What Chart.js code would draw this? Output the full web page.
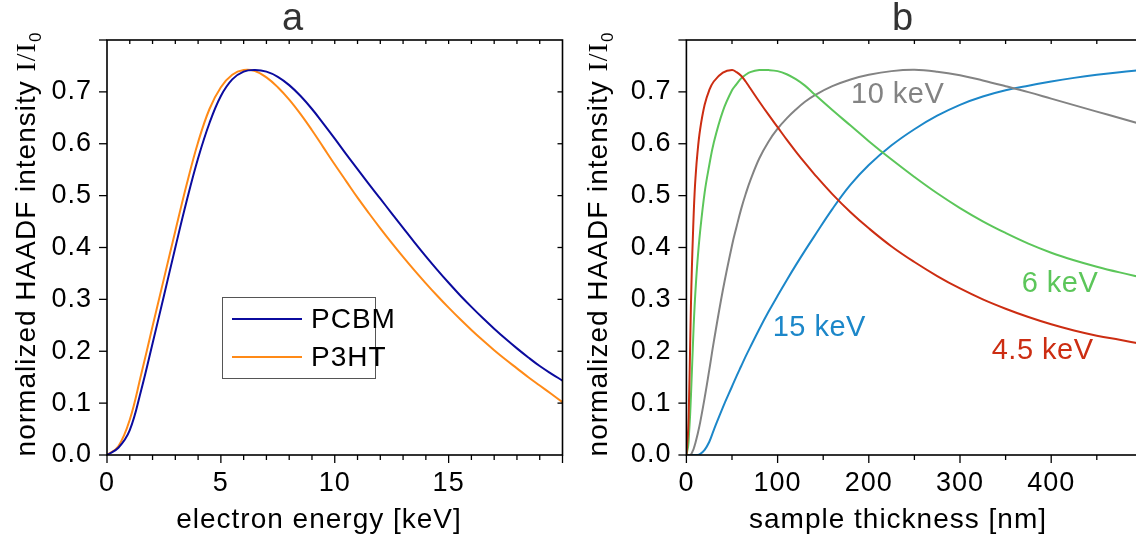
<!DOCTYPE html>
<html><head><meta charset="utf-8">
<script src="https://cdn.jsdelivr.net/npm/chart.js@4.4.1/dist/chart.umd.min.js"></script>
<style>
html,body{margin:0;padding:0;background:#fff;overflow:hidden;width:1136px;height:540px;}
#wa{position:absolute;left:0;top:0;width:568px;height:540px;}
#wb{position:absolute;left:568px;top:0;width:580px;height:540px;}
</style></head><body>
<div id="wa"><canvas id="ca"></canvas></div>
<div id="wb"><canvas id="cb"></canvas></div>
<script>
// ---- panel a data ----
const energyKeV = [0,0.5,1,1.5,2,2.5,3,3.5,4,4.5,5,5.5,6,6.5,7,7.5,8,8.5,9,9.5,10,10.5,11,11.5,12,12.5,13,13.5,14,14.5,15,15.5,16,16.5,17,17.5,18,18.5,19,19.5,20];
const pcbm = [0,0.014,0.048,0.125,0.215,0.307,0.400,0.490,0.572,0.640,0.692,0.724,0.739,0.742,0.739,0.729,0.713,0.692,0.667,0.639,0.610,0.580,0.551,0.522,0.494,0.466,0.438,0.410,0.383,0.357,0.332,0.308,0.2855,0.264,0.2435,0.224,0.2055,0.188,0.1715,0.157,0.1435];
const p3ht = [0,0.017,0.068,0.155,0.248,0.340,0.432,0.522,0.603,0.667,0.709,0.733,0.742,0.740,0.728,0.709,0.685,0.657,0.626,0.593,0.560,0.528,0.496,0.466,0.437,0.409,0.382,0.356,0.331,0.307,0.284,0.262,0.241,0.221,0.202,0.184,0.167,0.150,0.134,0.118,0.102];
const seriesA = ['PCBM','P3HT'];
// ---- panel b data ----
const thicknessNm = [0,2,3,4,5,6,7,8,9,10,12,15,20,25,30,40,50,55,60,65,70,80,90,100,110,120,130,140,160,180,200,225,250,275,300,325,350,375,400,425,450,475,500];
const i4p5keV = [0,0.05,0.115,0.2,0.29,0.36,0.415,0.465,0.505,0.535,0.58,0.627,0.675,0.703,0.72,0.737,0.742,0.738,0.731,0.72,0.707,0.681,0.656,0.632,0.608,0.585,0.563,0.542,0.503,0.468,0.437,0.402,0.372,0.345,0.321,0.300,0.282,0.266,0.252,0.240,0.230,0.222,0.214];
const i6keV = [0,0.018,0.045,0.075,0.115,0.16,0.205,0.25,0.287,0.318,0.37,0.43,0.506,0.558,0.602,0.663,0.703,0.715,0.726,0.733,0.738,0.742,0.742,0.740,0.734,0.7245,0.712,0.696,0.665,0.635,0.605,0.5695,0.536,0.5045,0.476,0.4505,0.428,0.4075,0.390,0.3755,0.363,0.352,0.342];
const i10keV = [0,0,0,0,0.001,0.004,0.008,0.012,0.018,0.024,0.038,0.062,0.11,0.163,0.218,0.318,0.404,0.44,0.474,0.503,0.529,0.572,0.604,0.629,0.649,0.666,0.681,0.693,0.711,0.724,0.733,0.740,0.7425,0.739,0.732,0.722,0.711,0.6995,0.687,0.6745,0.662,0.6495,0.637];
const i15keV = [0,0,0,0,0,0,0,0,0,0,0,0.002,0.01,0.025,0.048,0.092,0.132,0.152,0.171,0.19,0.208,0.243,0.276,0.307,0.337,0.366,0.394,0.421,0.474,0.521,0.559,0.597,0.628,0.654,0.675,0.691,0.703,0.712,0.72,0.727,0.733,0.738,0.742];
const seriesB = ['4.5 keV','6 keV','10 keV','15 keV'];
// ---- tick values ----
const yTickValues = [0,0.1,0.2,0.3,0.4,0.5,0.6,0.7];

const FAM = "'Liberation Sans', Arial, sans-serif";
const SERIF = "'Liberation Serif', 'Times New Roman', serif";
Chart.defaults.font.family = FAM;
Chart.defaults.font.size = 27;
Chart.defaults.color = '#000';

function pts(xs, ys){ return xs.map((x,i)=>({x:x, y:ys[i]})); }

function setSpacing(chart){ try{ chart.ctx.letterSpacing='1px'; }catch(e){} }

const framePlugin = {
  id:'frame',
  beforeLayout: setSpacing, beforeUpdate: setSpacing, beforeDraw: setSpacing,
  afterDraw(chart, args, o){
    const {ctx, chartArea:a} = chart;
    const x = chart.scales.x, y = chart.scales.y;
    ctx.save();
    ctx.letterSpacing='1px';
    ctx.strokeStyle='#000'; ctx.lineWidth=1.6;
    ctx.strokeRect(a.left, a.top, a.right-a.left, a.bottom-a.top);
    ctx.lineWidth=1.3;
    const ln=(x1,y1,x2,y2)=>{ctx.beginPath();ctx.moveTo(x1,y1);ctx.lineTo(x2,y2);ctx.stroke();};
    const n = Math.round((x.max-x.min)/o.xMinor);
    for(let i=0;i<=n;i++){
      const v = x.min + i*o.xMinor;
      const px = x.getPixelForValue(v);
      const major = Math.abs(v/o.xMajor - Math.round(v/o.xMajor))<1e-6;
      ln(px, a.bottom, px, a.bottom + (major?8:5));
      if(i>0 && i<n) ln(px, a.top, px, a.top+4);
    }
    for(let i=0;i<=8;i++){
      const py = y.getPixelForValue(i*0.1);
      ln(a.left-8, py, a.left, py);
      if(i>0 && i<8) ln(a.right, py, a.right-5, py);
    }
    // y title
    const t1 = 'normalized HAADF intensity ';
    ctx.translate(o.yTitleX, o.yTitleY); ctx.rotate(-Math.PI/2);
    ctx.fillStyle='#000'; ctx.textBaseline='alphabetic'; ctx.textAlign='left';
    ctx.font = "28px "+FAM; const w1 = ctx.measureText(t1).width;
    ctx.font = "28px "+SERIF; const w2 = ctx.measureText('I/I').width;
    ctx.font = "17px "+FAM; const w3 = ctx.measureText('0').width;
    let px = -(w1+w2+w3)/2;
    ctx.font = "28px "+FAM; ctx.fillText(t1, px, 0); px+=w1;
    ctx.font = "28px "+SERIF; ctx.fillText('I/I', px, 0); px+=w2;
    ctx.font = "17px "+FAM; ctx.fillText('0', px, 6);
    ctx.setTransform(1,0,0,1,0,0);
    // x title
    ctx.font = "28px "+FAM; ctx.textAlign='center'; ctx.textBaseline='middle';
    ctx.fillText(o.xTitle, o.xTitleX, o.xTitleY);
    // panel letter
    ctx.fillStyle='#333'; ctx.font = "38px "+FAM;
    ctx.fillText(o.letter, o.letterX, 20);
    ctx.restore();
  }
};

const legendPlugin = {
  id:'boxLegend',
  afterDraw(chart, args, o){
    if(!o.show) return;
    const ctx = chart.ctx;
    ctx.save();
    ctx.letterSpacing='1px';
    ctx.strokeStyle='#555'; ctx.lineWidth=1;
    ctx.strokeRect(o.left+0.5, o.top+0.5, o.width, o.height);
    ctx.font = "28px "+FAM; ctx.textBaseline='middle'; ctx.textAlign='left'; ctx.fillStyle='#000';
    chart.data.datasets.forEach((ds,i)=>{
      const yy = o.top + o.rowY[i];
      ctx.strokeStyle = ds.borderColor; ctx.lineWidth=2;
      ctx.beginPath(); ctx.moveTo(o.left+10, yy); ctx.lineTo(o.left+80, yy); ctx.stroke();
      ctx.fillText(ds.label, o.left+89, yy+1);
    });
    ctx.restore();
  }
};

const curveLabelPlugin = {
  id:'curveLabels',
  afterDraw(chart, args, o){
    if(!o.items) return;
    const ctx = chart.ctx, x=chart.scales.x, y=chart.scales.y;
    ctx.save();
    ctx.letterSpacing='0.5px';
    ctx.font = "29px "+FAM; ctx.textBaseline='alphabetic'; ctx.textAlign='left';
    o.items.forEach(it=>{
      const ds = chart.data.datasets[it.ds];
      ctx.fillStyle = ds.borderColor;
      ctx.fillText(ds.label, x.getPixelForValue(it.x), y.getPixelForValue(it.y));
    });
    ctx.restore();
  }
};

function scalesFor(xMax, xStep, yWidth){
  return {
    x:{type:'linear', min:0, max:xMax, afterFit:s=>{s.height=85;},
       grid:{drawOnChartArea:false, color:'rgba(0,0,0,0)', tickLength:8},
       border:{display:false},
       ticks:{stepSize:xStep, padding:4, maxRotation:0, autoSkip:false,
              callback:v=> (v>=xMax-1e-9)?'':String(v)}},
    y:{type:'linear', min:0, max:0.8, afterFit:s=>{s.width=yWidth;},
       grid:{drawOnChartArea:false, color:'rgba(0,0,0,0)', tickLength:8},
       border:{display:false},
       ticks:{stepSize:0.1, padding:7, autoSkip:false,
              callback:v=> yTickValues.some(t=>Math.abs(t-v)<1e-6)? v.toFixed(1):''}}
  };
}

function lineDs(label, xs, ys, color){
  return {label, data:pts(xs,ys), borderColor:color, backgroundColor:color,
          borderWidth:2, pointRadius:0, fill:false, tension:0.4};
}

new Chart(document.getElementById('ca'), {
  type:'line',
  data:{datasets:[
    lineDs(seriesA[0], energyKeV, pcbm, '#0b0b9e'),
    lineDs(seriesA[1], energyKeV, p3ht, '#ff8a17')
  ]},
  options:{
    responsive:true, maintainAspectRatio:false, animation:false, devicePixelRatio:1,
    layout:{padding:{top:40, right:5.5, left:0, bottom:0}},
    scales:scalesFor(20, 5, 107),
    plugins:{
      legend:{display:false}, tooltip:{enabled:false},
      frame:{xMinor:1, xMajor:5, yTitleX:35, yTitleY:244, xTitle:'electron energy [keV]', xTitleX:319, xTitleY:520, letter:'a', letterX:293},
      boxLegend:{show:true, left:222, top:297, width:153, height:81, rowY:[22,60]}
    }
  },
  plugins:[framePlugin, legendPlugin]
});

new Chart(document.getElementById('cb'), {
  type:'line',
  data:{datasets:[
    lineDs(seriesB[0], thicknessNm, i4p5keV, '#cc2d12'),
    lineDs(seriesB[1], thicknessNm, i6keV, '#5cc65a'),
    lineDs(seriesB[2], thicknessNm, i10keV, '#838383'),
    lineDs(seriesB[3], thicknessNm, i15keV, '#1c87c9')
  ]},
  options:{
    responsive:true, maintainAspectRatio:false, animation:false, devicePixelRatio:1,
    layout:{padding:{top:40, right:5.6, left:0, bottom:0}},
    scales:scalesFor(500, 100, 118.4),
    plugins:{
      legend:{display:false}, tooltip:{enabled:false},
      frame:{xMinor:50, xMajor:100, yTitleX:39, yTitleY:244, xTitle:'sample thickness [nm]', xTitleX:330, xTitleY:520, letter:'b', letterX:335},
      curveLabels:{items:[
        {ds:2, x:180.5, y:0.678},
        {ds:1, x:367.6, y:0.315},
        {ds:0, x:334.8, y:0.186},
        {ds:3, x:94.6, y:0.229}
      ]}
    }
  },
  plugins:[framePlugin, curveLabelPlugin]
});
</script>
</body></html>
